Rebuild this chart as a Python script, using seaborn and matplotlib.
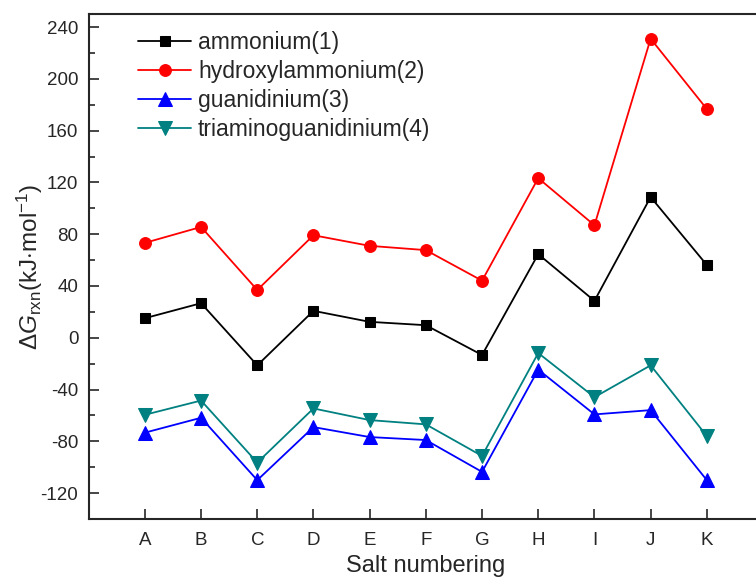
import matplotlib
matplotlib.use("Agg")
import matplotlib.pyplot as plt
import seaborn as sns
import pandas as pd
from matplotlib.ticker import MultipleLocator

categories = ["A", "B", "C", "D", "E", "F", "G", "H", "I", "J", "K"]
ammonium = [15.1, 26.7, -21.3, 20.8, 12.3, 9.7, -13.3, 64.6, 28.5, 108.7, 56.2]
hydroxylammonium = [73.3, 85.6, 36.9, 79.2, 71.0, 67.7, 44.1, 123.3, 86.9, 231.0, 176.7]
guanidinium = [-73.3, -61.8, -110.0, -69.0, -76.7, -79.0, -103.6, -24.6, -59.2, -55.9, -110.0]
triaminoguanidinium = [-59.5, -48.5, -96.4, -54.6, -63.6, -66.9, -91.3, -11.8, -45.9, -21.3, -75.9]

series_names = ["ammonium(1)", "hydroxylammonium(2)", "guanidinium(3)", "triaminoguanidinium(4)"]
series_values = [ammonium, hydroxylammonium, guanidinium, triaminoguanidinium]
colors = ["#000000", "#FF0000", "#0000FF", "#008080"]
markers = ["s", "o", "^", "v"]
msizes = [7.5, 8.5, 9.5, 9.5]

sns.set_style("ticks")
plt.rcParams["font.family"] = ["Liberation Sans", "DejaVu Sans"]
plt.rcParams["mathtext.fontset"] = "custom"
plt.rcParams["mathtext.rm"] = "Liberation Sans"
plt.rcParams["mathtext.it"] = "Liberation Sans:italic"
plt.rcParams["axes.unicode_minus"] = False

fig = plt.figure(figsize=(7.56, 5.81), dpi=100)
ax = fig.add_axes([0.1173, 0.1067, 0.892, 0.869])

for name, vals, c, m, ms in zip(series_names, series_values, colors, markers, msizes):
    df = pd.DataFrame({"cat": list(range(len(categories))), "val": vals})
    sns.lineplot(data=df, x="cat", y="val", ax=ax, color=c, marker=m, markersize=ms,
                 markeredgecolor=c, linewidth=1.3, label=name)

ax.set_xlim(-1, 11)
ax.set_ylim(-140, 250)
ax.set_xticks(range(len(categories)))
ax.set_xticklabels(categories)
ax.set_yticks(range(-120, 241, 40))
ax.yaxis.set_minor_locator(MultipleLocator(20))
ax.tick_params(axis="both", which="major", direction="in", length=7, width=1.2, labelsize=13.5,
               top=False, right=False)
ax.tick_params(axis="y", which="minor", direction="in", length=4, width=1.2, right=False)
ax.tick_params(axis="x", pad=9)
ax.tick_params(axis="y", pad=7.5)
for s in ax.spines.values():
    s.set_linewidth(1.5)
    s.set_visible(True)

ax.set_xlabel("Salt numbering", fontsize=17, labelpad=5)
ax.set_ylabel(r"$\Delta\mathit{G}_{\mathrm{rxn}}$(kJ$\cdot$mol$^{-1}$)", fontsize=17.5)
ax.yaxis.set_label_coords(-0.065, 0.5)

leg = ax.legend(loc="upper left", bbox_to_anchor=(0.06, 0.985), frameon=False, fontsize=16.5,
                handlelength=2.3, handletextpad=0.3, labelspacing=0.26, borderaxespad=0)

fig.savefig("out.png", dpi=100)
